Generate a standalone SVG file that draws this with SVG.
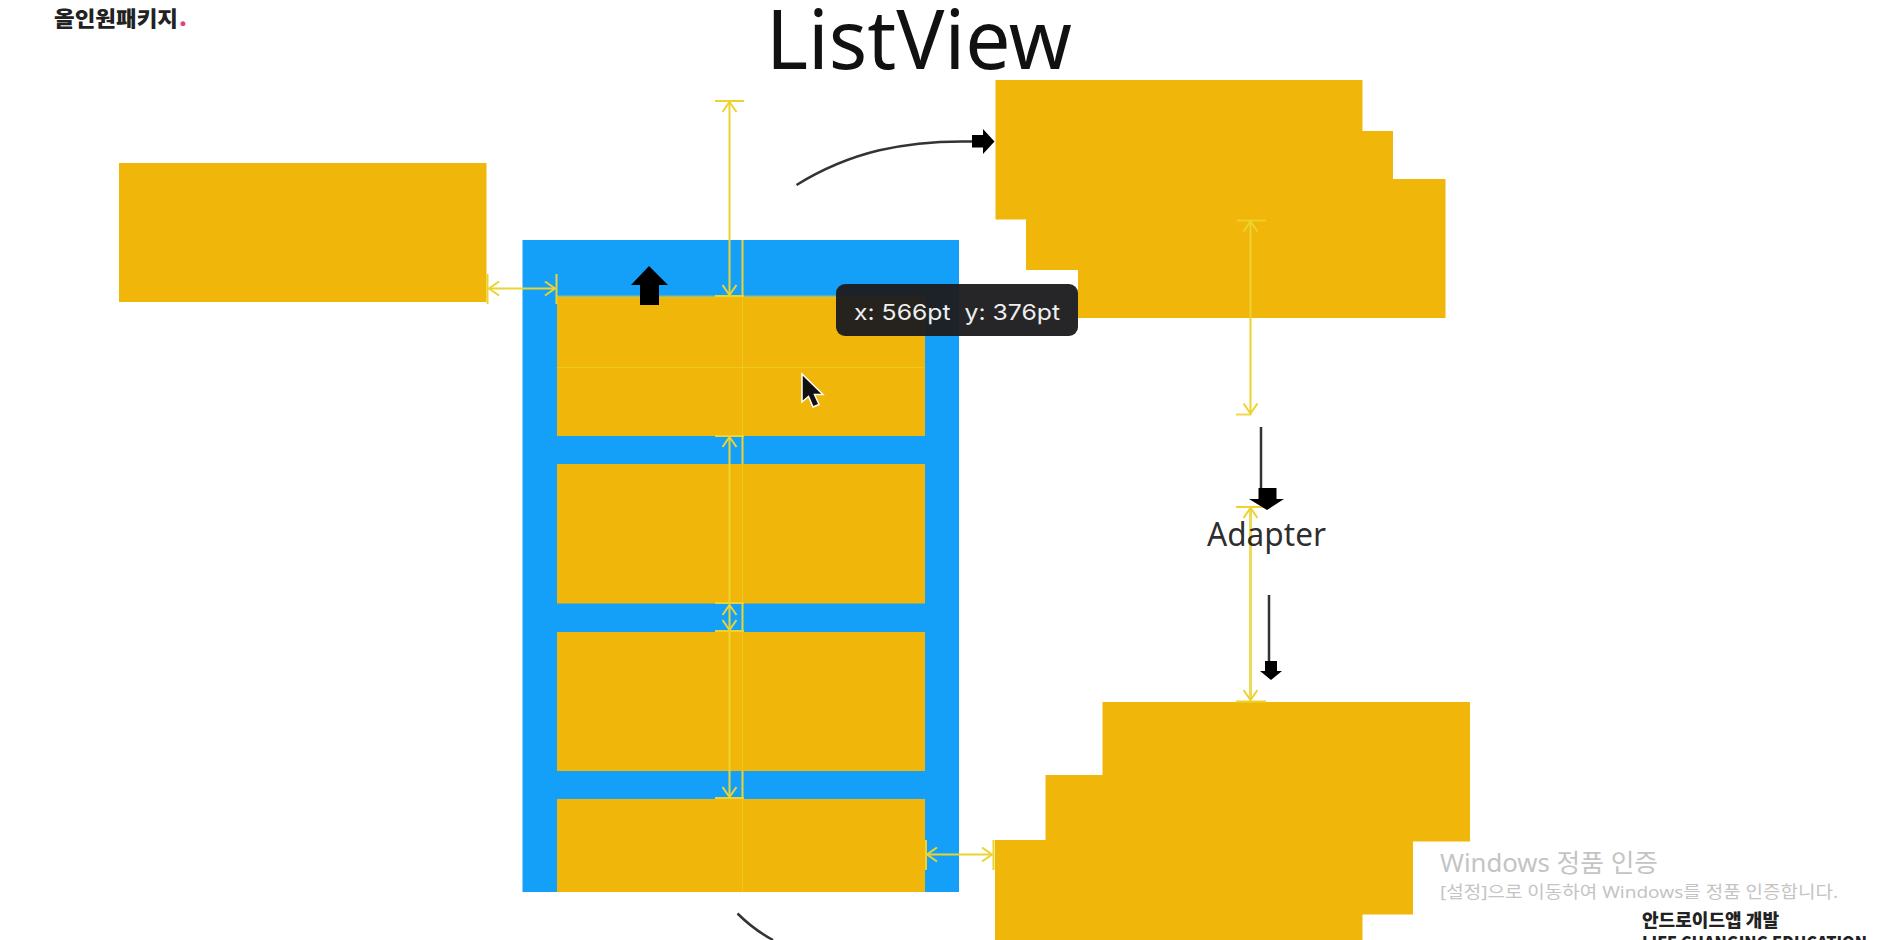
<svg xmlns="http://www.w3.org/2000/svg" width="1884" height="940" viewBox="0 0 1884 940">
<style>
.o{fill:#f0b609}
.b{fill:#14a0f9}
.y{stroke:#ecd32f;stroke-width:2;fill:none}
.yf{stroke:#ecd32f;stroke-width:1;fill:none;opacity:.6}
.yw{stroke:#efd95a;stroke-width:3;fill:none}
.k{stroke:#333;stroke-width:2.5;fill:none}
.ttl{font-family:"Noto Sans","Open Sans","Noto Sans CJK KR",sans-serif;fill:#111}
.brand{font-family:"Noto Sans CJK KR","Noto Sans",sans-serif;font-weight:900;fill:#222}
.wm{font-family:"Noto Sans","Noto Sans CJK KR",sans-serif;fill:#c4c4c4}
</style>
<defs>
<marker id="ah" viewBox="0 0 12 16" refX="11" refY="8" markerWidth="12" markerHeight="16" markerUnits="userSpaceOnUse" orient="auto-start-reverse">
<path d="M1 1L11 8L1 15" fill="none" stroke="#ecd32f" stroke-width="2"/>
</marker>
</defs>
<rect width="1884" height="940" fill="#fff"/>

<g id="brand-top"><text class="brand" x="54" y="25.500" font-size="21" textLength="124" lengthAdjust="spacingAndGlyphs">올인원패키지</text><text x="179.500" y="25.500" font-size="24" font-family="Noto Sans" font-weight="900" fill="#e8407a">.</text></g>
<g id="title"><text class="ttl" x="766" y="69" font-size="82" textLength="306" lengthAdjust="spacingAndGlyphs">ListView</text></g>

<g id="view-box"><rect class="o" x="119" y="163" width="367.500" height="139"/></g>

<g id="listview"><rect class="b" x="522.500" y="240" width="436.500" height="652"/>
<rect class="o" x="557" y="297" width="368" height="139"/>
<rect class="o" x="557" y="464" width="368" height="139.500"/>
<rect class="o" x="557" y="632" width="368" height="139"/>
<rect class="o" x="557" y="799" width="368" height="93"/></g>

<g id="data-stack-top"><rect class="o" x="995.500" y="80" width="367" height="139.500"/>
<rect class="o" x="1026" y="131" width="367" height="139"/>
<rect class="o" x="1078" y="179" width="367.500" height="139"/></g>

<g id="data-stack-bottom"><rect class="o" x="1102.500" y="702" width="367.500" height="139.500"/>
<rect class="o" x="1045.500" y="775" width="367.500" height="139.500"/>
<rect class="o" x="995" y="840" width="367.500" height="100"/></g>

<g id="connectors">
<path class="y" d="M487.500 274V304M556.500 274V304"/>
<path class="y" d="M557 296.500H925" stroke-width="1" opacity=".6"/>
<path class="y" d="M489 288.500H555" marker-start="url(#ah)" marker-end="url(#ah)"/>
<path class="yf" d="M557 367.500H925M742.500 240V892"/>
<path d="M742.500 240V297M742.500 436V464M742.500 603V632M742.500 771V799" stroke="#ecd32f" stroke-width="2" fill="none"/>
<path class="y" d="M715 101H744M715 296H744M715 436H744M715 603H744M715 631H744M715 798H744"/>
<path class="y" d="M729.500 102V295" marker-start="url(#ah)" marker-end="url(#ah)"/>
<path class="y" d="M729.500 437V604" marker-start="url(#ah)"/>
<path class="y" d="M729.500 605V630" marker-start="url(#ah)" marker-end="url(#ah)"/>
<path class="y" d="M729.500 631V797" marker-end="url(#ah)"/>
<path class="y" d="M926 840V870M993.500 840V870"/>
<path class="y" d="M927 854.500H992" marker-start="url(#ah)" marker-end="url(#ah)"/>
<path class="y" d="M1237 220.500H1266M1236 414.500H1251.500" opacity=".85"/>
<path class="y" d="M1250.500 221.500V413.500" marker-start="url(#ah)" marker-end="url(#ah)"/>
<path class="y" d="M1236 507H1266M1236 701.500H1266"/>
<path class="yw" d="M1250.500 508V700" marker-start="url(#ah)" marker-end="url(#ah)"/>
<path class="k" d="M796.500 185C850 152 905 140 973 141.500"/>
<path d="M972 135H983V129L994.500 141.500L983 154V147.500H972Z" fill="#000"/>
<path d="M649 266L668 285H659V305H640V285H631Z" fill="#000"/>
<path class="k" d="M1261 427V488M1269 595V661"/>
<path d="M1258.500 488H1276.500V499H1284L1267 510L1249 499H1258.500Z" fill="#000"/>
<path d="M1265 661H1277V671H1282L1271 680L1260 671H1265Z" fill="#000"/>
<path class="k" d="M737.500 913.500C748 924 760 933 773 940"/>
</g>

<g id="adapter"><text class="ttl" x="1207" y="546" font-size="32" textLength="119" lengthAdjust="spacingAndGlyphs" fill-opacity=".9">Adapter</text></g>

<g id="tooltip"><rect x="836" y="284" width="242" height="52" rx="9" fill="#1d1d1f" fill-opacity=".96"/>
<text x="854" y="320" font-family="Inter,'Liberation Sans',sans-serif" font-size="22" fill="#eee" textLength="206" lengthAdjust="spacingAndGlyphs" xml:space="preserve">x: 566pt  y: 376pt</text></g>

<g id="cursor"><path d="M802 374V402L808.500 396.500L813 407L819 404.500L814.500 394.500H823Z" fill="#111" stroke="#fff" stroke-width="1.500"/></g>

<g id="watermark"><text class="wm" x="1440" y="872" font-size="25" textLength="218" lengthAdjust="spacingAndGlyphs">Windows 정품 인증</text>
<text class="wm" x="1440" y="898" font-size="17" textLength="398" lengthAdjust="spacingAndGlyphs">[설정]으로 이동하여 Windows를 정품 인증합니다.</text></g>

<g id="brand-bottom"><text class="brand" x="1642" y="927" font-size="18" textLength="137" lengthAdjust="spacingAndGlyphs">안드로이드앱 개발</text>
<text class="brand" x="1642" y="949" font-size="17" textLength="225" lengthAdjust="spacingAndGlyphs">LIFE CHANGING EDUCATION</text></g>
</svg>
